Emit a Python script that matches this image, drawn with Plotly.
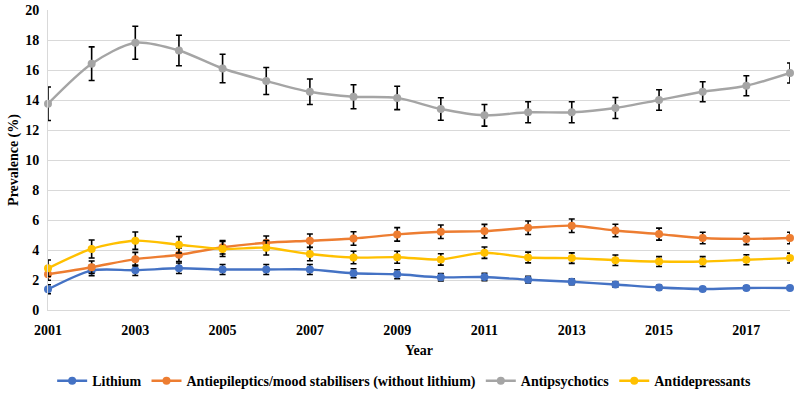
import plotly.graph_objects as go

years = list(range(2001, 2019))

lithium = [1.38, 2.63, 2.65, 2.78, 2.70, 2.70, 2.70, 2.45, 2.38, 2.18, 2.20, 2.02, 1.88, 1.70, 1.50, 1.40, 1.47, 1.47]
lithium_err = [0.30, 0.35, 0.35, 0.35, 0.33, 0.33, 0.33, 0.30, 0.30, 0.25, 0.25, 0.22, 0.20, 0.18, 0.15, 0.12, 0.12, 0.12]

antiepileptics = [2.38, 2.85, 3.39, 3.68, 4.18, 4.48, 4.62, 4.77, 5.04, 5.22, 5.26, 5.48, 5.62, 5.30, 5.06, 4.80, 4.74, 4.80]
antiepileptics_err = [0.40, 0.42, 0.45, 0.45, 0.45, 0.45, 0.45, 0.45, 0.45, 0.45, 0.45, 0.45, 0.45, 0.42, 0.40, 0.38, 0.38, 0.38]

antipsychotics = [13.75, 16.42, 17.82, 17.30, 16.10, 15.27, 14.55, 14.22, 14.14, 13.40, 12.98, 13.18, 13.18, 13.47, 14.00, 14.55, 14.95, 15.80]
antipsychotics_err = [1.12, 1.12, 1.10, 1.02, 0.95, 0.90, 0.85, 0.80, 0.78, 0.75, 0.72, 0.70, 0.70, 0.70, 0.68, 0.67, 0.67, 0.67]

antidepressants = [2.78, 4.07, 4.62, 4.35, 4.07, 4.15, 3.73, 3.50, 3.52, 3.37, 3.82, 3.50, 3.46, 3.32, 3.23, 3.23, 3.35, 3.46]
antidepressants_err = [0.55, 0.60, 0.58, 0.55, 0.50, 0.48, 0.45, 0.42, 0.40, 0.38, 0.38, 0.36, 0.35, 0.35, 0.33, 0.33, 0.33, 0.33]

series = [
    ("Lithium", lithium, lithium_err, "#4472C4"),
    ("Antiepileptics/mood stabilisers (without lithium)", antiepileptics, antiepileptics_err, "#ED7D31"),
    ("Antipsychotics", antipsychotics, antipsychotics_err, "#A5A5A5"),
    ("Antidepressants", antidepressants, antidepressants_err, "#FFC000"),
]

font_family = "Liberation Serif, Times New Roman, serif"

fig = go.Figure()
for name, vals, errs, color in series:
    fig.add_trace(go.Scatter(
        x=years, y=vals, name=name, mode="lines+markers", cliponaxis=False,
        line=dict(color=color, width=2.4, shape="spline", smoothing=0.8),
        marker=dict(color=color, size=8, symbol="circle"),
        error_y=dict(type="data", array=errs, visible=True, color="black", thickness=1.6, width=3),
    ))

fig.update_layout(
    width=800, height=395,
    margin=dict(l=48, r=10, t=10, b=85, autoexpand=False),
    paper_bgcolor="white", plot_bgcolor="white",
    font=dict(family=font_family, size=14, color="black"),
    showlegend=True,
    legend=dict(
        orientation="h", x=0.48, xanchor="center",
        y=-0.237, yanchor="middle",
        font=dict(family=font_family, size=14, color="black", weight="bold"),
        itemwidth=30, tracegroupgap=0,
    ),
    xaxis=dict(
        range=[2001, 2018], tickmode="array", tickvals=list(range(2001, 2018, 2)),
        ticktext=[str(y) for y in range(2001, 2018, 2)],
        showgrid=False, showline=True, linecolor="#D9D9D9", linewidth=1,
        ticks="", tickfont=dict(family=font_family, size=14, weight="bold"),
        ticklabelstandoff=7, automargin=False,
        title=dict(text="<b>Year</b>", font=dict(family=font_family, size=14), standoff=8),
        zeroline=False,
    ),
    yaxis=dict(
        range=[0, 20], dtick=2, tick0=0,
        showgrid=True, gridcolor="#D9D9D9", gridwidth=1,
        showline=True, linecolor="#D9D9D9", linewidth=1,
        ticks="", tickfont=dict(family=font_family, size=14, weight="bold"),
        ticklabelstandoff=5, automargin=False,
        title=dict(text="<b>Prevalence (%)</b>", font=dict(family=font_family, size=14), standoff=3),
        zeroline=False,
    ),
)

fig.write_html("out.html", config={"displayModeBar": False},
               post_script="document.body.style.margin='0';")
